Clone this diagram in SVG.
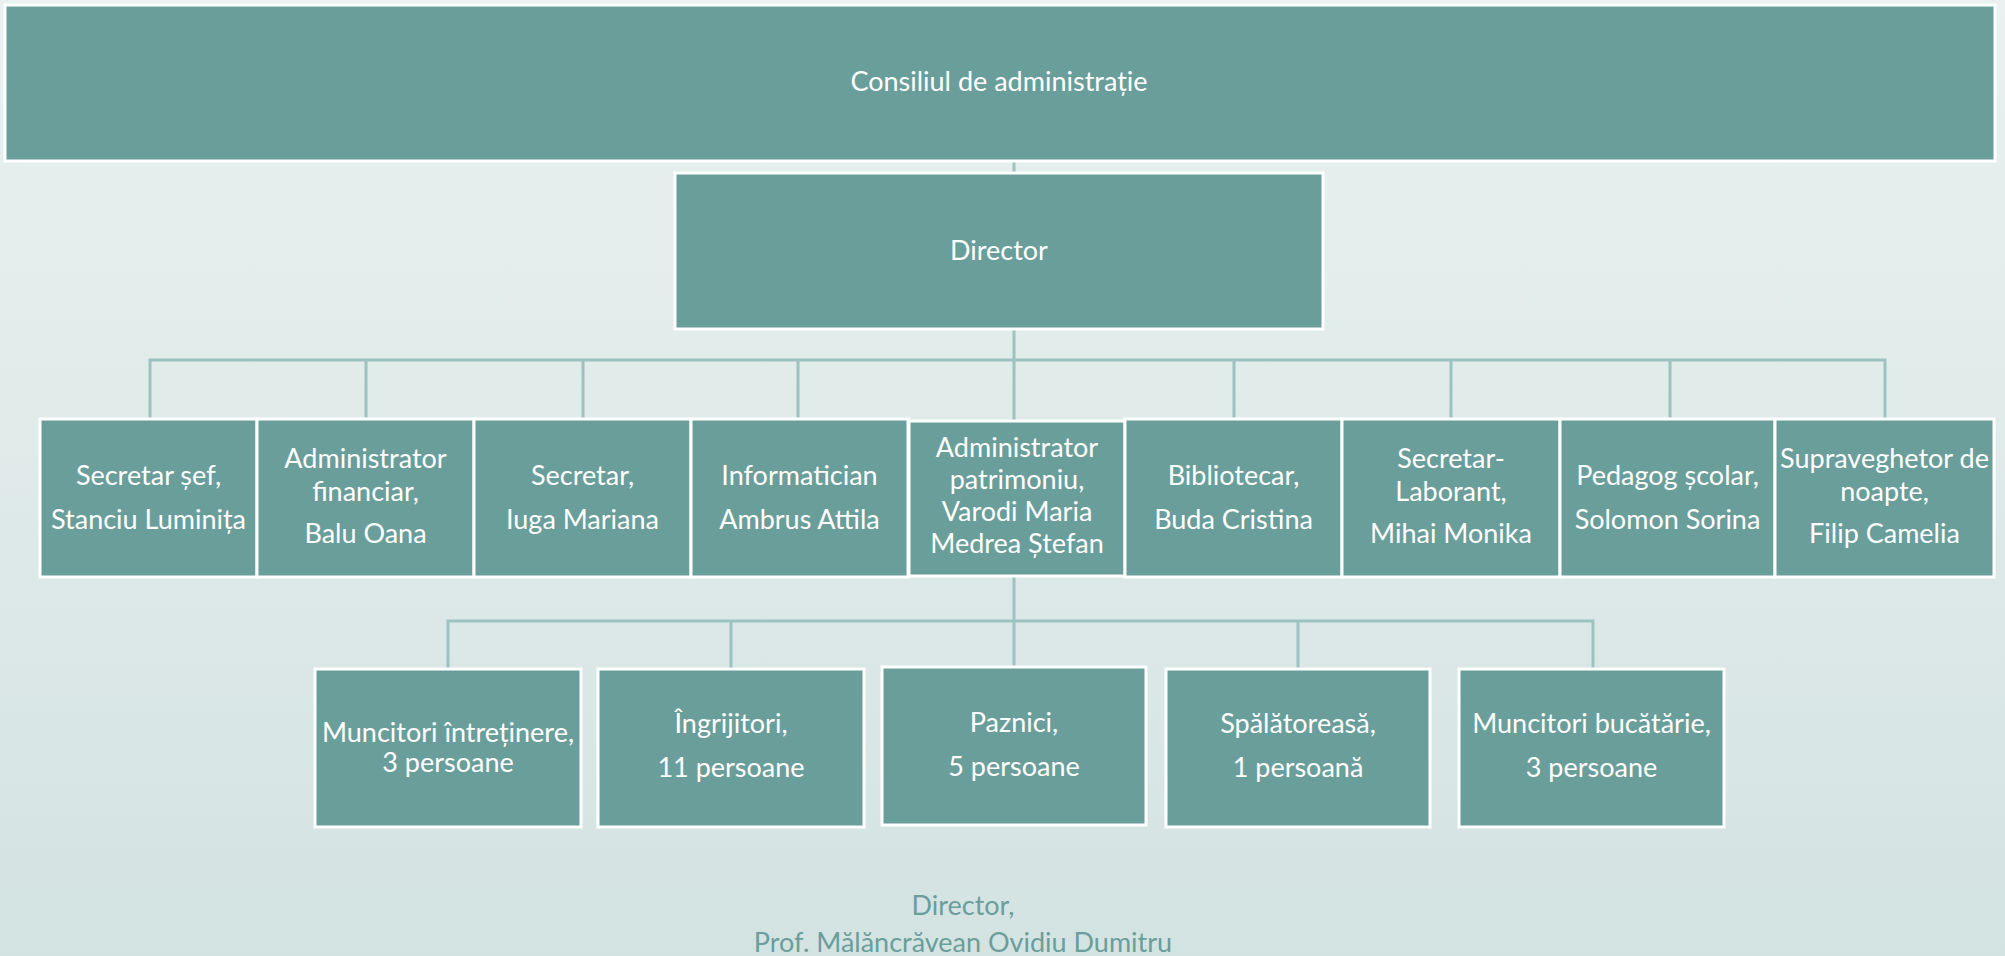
<svg xmlns="http://www.w3.org/2000/svg" width="2005" height="956" viewBox="0 0 2005 956">
  <defs>
    <linearGradient id="bg" x1="0" y1="0" x2="0" y2="1">
      <stop offset="0" stop-color="#eaf1f0"/>
      <stop offset="1" stop-color="#d3e3e2"/>
    </linearGradient>
    <style>
      .box { fill: #6a9e9b; stroke: #ffffff; stroke-width: 3; }
      .lbl { font-family: Lato, "Liberation Sans", sans-serif; font-size: 27px; fill: #ffffff; text-anchor: middle; }
      .foot { font-family: Lato, "Liberation Sans", sans-serif; font-size: 27px; fill: #6a9e9b; text-anchor: middle; }
      .conn { stroke: #9dc3c0; stroke-width: 3; fill: none; }
    </style>
  </defs>
  <rect x="0" y="0" width="2005" height="956" fill="url(#bg)"/>

  <g id="connectors">
    <line class="conn" x1="1014" y1="162" x2="1014" y2="173"/>
    <line class="conn" x1="1014" y1="330" x2="1014" y2="360"/>
    <polyline class="conn" points="150,418 150,360 1885,360 1885,418"/>
    <line class="conn" x1="366" y1="360" x2="366" y2="418"/>
    <line class="conn" x1="583" y1="360" x2="583" y2="418"/>
    <line class="conn" x1="798" y1="360" x2="798" y2="418"/>
    <line class="conn" x1="1014" y1="360" x2="1014" y2="420"/>
    <line class="conn" x1="1234" y1="360" x2="1234" y2="418"/>
    <line class="conn" x1="1451" y1="360" x2="1451" y2="418"/>
    <line class="conn" x1="1670" y1="360" x2="1670" y2="418"/>
    <line class="conn" x1="1014" y1="576" x2="1014" y2="621"/>
    <polyline class="conn" points="448,668 448,621 1593,621 1593,668"/>
    <line class="conn" x1="731" y1="621" x2="731" y2="668"/>
    <line class="conn" x1="1014" y1="621" x2="1014" y2="666"/>
    <line class="conn" x1="1298" y1="621" x2="1298" y2="668"/>
  </g>

  <g id="consiliu">
    <rect class="box" x="5" y="5" width="1990" height="156"/>
    <text class="lbl" x="999" y="91">Consiliul de administrație</text>
  </g>
  <g id="director">
    <rect class="box" x="675" y="173" width="648" height="156"/>
    <text class="lbl" x="999" y="260">Director</text>
  </g>

  <g id="secretar-sef">
    <rect class="box" x="40" y="419" width="217" height="158"/>
    <text class="lbl" x="148.5" y="485">Secretar șef,</text>
    <text class="lbl" x="148.5" y="529">Stanciu Luminița</text>
  </g>
  <g id="admin-financiar">
    <rect class="box" x="257" y="419" width="217" height="158"/>
    <text class="lbl" x="365.5" y="468">Administrator</text>
    <text class="lbl" x="365.5" y="501">financiar,</text>
    <text class="lbl" x="365.5" y="543">Balu Oana</text>
  </g>
  <g id="secretar">
    <rect class="box" x="474" y="419" width="217" height="158"/>
    <text class="lbl" x="582.5" y="485">Secretar,</text>
    <text class="lbl" x="582.5" y="529">Iuga Mariana</text>
  </g>
  <g id="informatician">
    <rect class="box" x="691" y="419" width="217" height="158"/>
    <text class="lbl" x="799.5" y="485">Informatician</text>
    <text class="lbl" x="799.5" y="529">Ambrus Attila</text>
  </g>
  <g id="admin-patrimoniu">
    <rect class="box" x="909" y="421" width="216" height="155"/>
    <text class="lbl" x="1017" y="457">Administrator</text>
    <text class="lbl" x="1017" y="489">patrimoniu,</text>
    <text class="lbl" x="1017" y="521">Varodi Maria</text>
    <text class="lbl" x="1017" y="553">Medrea Ștefan</text>
  </g>
  <g id="bibliotecar">
    <rect class="box" x="1125" y="419" width="217" height="158"/>
    <text class="lbl" x="1233.5" y="485">Bibliotecar,</text>
    <text class="lbl" x="1233.5" y="529">Buda Cristina</text>
  </g>
  <g id="secretar-laborant">
    <rect class="box" x="1342" y="419" width="218" height="158"/>
    <text class="lbl" x="1451" y="468">Secretar-</text>
    <text class="lbl" x="1451" y="501">Laborant,</text>
    <text class="lbl" x="1451" y="543">Mihai Monika</text>
  </g>
  <g id="pedagog">
    <rect class="box" x="1560" y="419" width="215" height="158"/>
    <text class="lbl" x="1667.5" y="485">Pedagog școlar,</text>
    <text class="lbl" x="1667.5" y="529">Solomon Sorina</text>
  </g>
  <g id="supraveghetor">
    <rect class="box" x="1775" y="419" width="219" height="158"/>
    <text class="lbl" x="1884.5" y="468">Supraveghetor de</text>
    <text class="lbl" x="1884.5" y="501">noapte,</text>
    <text class="lbl" x="1884.5" y="543">Filip Camelia</text>
  </g>

  <g id="muncitori-intretinere">
    <rect class="box" x="315" y="669" width="266" height="158"/>
    <text class="lbl" x="448" y="742">Muncitori întreținere,</text>
    <text class="lbl" x="448" y="772">3 persoane</text>
  </g>
  <g id="ingrijitori">
    <rect class="box" x="598" y="669" width="266" height="158"/>
    <text class="lbl" x="731" y="733">Îngrijitori,</text>
    <text class="lbl" x="731" y="777">11 persoane</text>
  </g>
  <g id="paznici">
    <rect class="box" x="882" y="667" width="264" height="158"/>
    <text class="lbl" x="1014" y="732">Paznici,</text>
    <text class="lbl" x="1014" y="776">5 persoane</text>
  </g>
  <g id="spalatoreasa">
    <rect class="box" x="1166" y="669" width="264" height="158"/>
    <text class="lbl" x="1298" y="733">Spălătoreasă,</text>
    <text class="lbl" x="1298" y="777">1 persoană</text>
  </g>
  <g id="muncitori-bucatarie">
    <rect class="box" x="1459" y="669" width="265" height="158"/>
    <text class="lbl" x="1591.5" y="733">Muncitori bucătărie,</text>
    <text class="lbl" x="1591.5" y="777">3 persoane</text>
  </g>

  <g id="semnatura">
    <text class="foot" x="963" y="915">Director,</text>
    <text class="foot" x="963" y="952">Prof. Mălăncrăvean Ovidiu Dumitru</text>
  </g>
</svg>
